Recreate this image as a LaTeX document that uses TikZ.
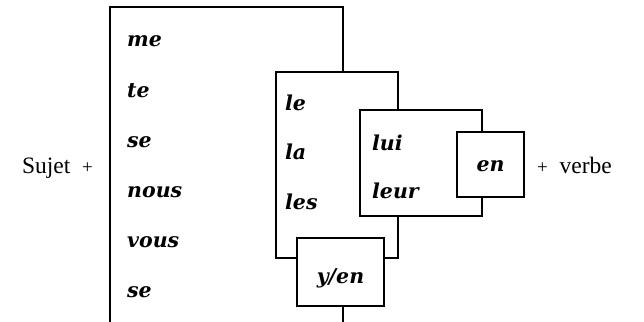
\documentclass[tikz,border=0pt]{standalone}
\usepackage{fontspec}
\setmainfont{Liberation Serif}
\newfontfamily\pronfont{DejaVu Serif}
\newcommand\smallplus{{\fontsize{19}{19}\selectfont +}}

\begin{document}
\begin{tikzpicture}[x=1pt, y=-1pt,
        box/.style = {draw, fill=white, line width=1.3pt, inner sep=0pt},
        pron/.style = {anchor=base west, inner sep=0pt,
            font=\pronfont\bfseries\itshape\fontsize{20.5}{20.5}\selectfont},
        word/.style = {inner sep=0pt, font=\fontsize{23.5}{23.5}\selectfont}]

    \useasboundingbox (0,0) rectangle (644,321);
    \clip (0,0) rectangle (644,321);

    % the boxes, back to front
    \node (bigbox) [box, minimum width=233, minimum height=330] at (226.5, 172) {};
    \node (lebox)  [box, minimum width=122, minimum height=186] at (337, 165) {};
    \node (luibox) [box, minimum width=122, minimum height=106] at (421, 163) {};
    \node (enbox)  [box, minimum width=67,  minimum height=65]  at (490.5, 164.5) {};
    \node (yenbox) [box, minimum width=87,  minimum height=68]  at (340.5, 272) {};

    \draw
        (127, 47)  node (me)   [pron] {me}
        (127, 97)  node (te)   [pron] {te}
        (127, 147) node (se1)  [pron] {se}
        (127, 197) node (nous) [pron] {nous}
        (127, 247) node (vous) [pron] {vous}
        (127, 297) node (se2)  [pron] {se}

        (285, 110) node (le)   [pron] {le}
        (285, 159) node (la)   [pron] {la}
        (285, 209) node (les)  [pron] {les}

        (372, 150) node (lui)  [pron] {lui}
        (372, 198) node (leur) [pron] {leur}

        (enbox.center |- 0, 171)  node (en)  [pron, anchor=base] {en}
        (yenbox.center |- 0, 283) node (yen) [pron, anchor=base] {y/en}
    ;

    \node (sujet) [word, anchor=base east] at (93, 173) {Sujet\enspace\smallplus};
    \node (verbe) [word, anchor=base west] at (537, 173) {\smallplus\enspace verbe};

\end{tikzpicture}
\end{document}
